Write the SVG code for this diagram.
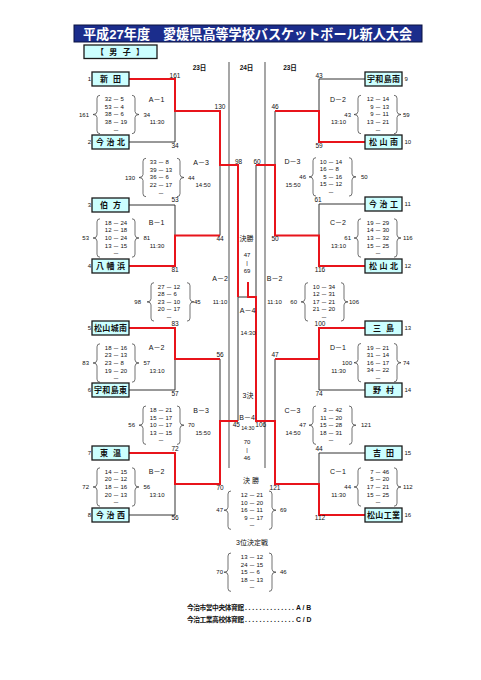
<svg xmlns="http://www.w3.org/2000/svg" width="481" height="680" viewBox="0 0 481 680">
<style>
text{font-family:"Liberation Sans","Noto Sans CJK JP",sans-serif;fill:#111}
.nm{font-size:8px;font-weight:bold;text-anchor:middle}
.s{font-size:6px}
.e{text-anchor:end}
.m{text-anchor:middle}
.lb{font-size:7px}
.n{font-size:6.5px}
.d{font-size:6.5px;font-weight:bold;text-anchor:middle}
.box{fill:#ccffff;stroke:#1a1a1a;stroke-width:1.3}
.red{fill:none;stroke:#e8141b;stroke-width:2}
.gry{fill:none;stroke:#333;stroke-width:1}
.br{fill:none;stroke:#333;stroke-width:0.7}
.vl{stroke:#777;stroke-width:1.3}
</style>
<defs>
<path id="bl" class="br" d="M3,-4 Q0,-4 0,-1 V12.2 Q0,15.2 -4,15.2 Q0,15.2 0,18.2 V31.4 Q0,34.4 3,34.4"/>
<path id="bR" class="br" d="M-3,-4 Q0,-4 0,-1 V12.2 Q0,15.2 4,15.2 Q0,15.2 0,18.2 V31.4 Q0,34.4 -3,34.4"/>
</defs>
<rect width="481" height="680" fill="#fff"/>
<g id="title">
<rect x="74" y="25" width="348" height="17" fill="#1b2d8c" stroke="#0a1240"/>
<text x="83" y="39" font-size="13.5" font-weight="bold" style="fill:#fff" textLength="329" lengthAdjust="spacingAndGlyphs">平成27年度　愛媛県高等学校バスケットボール新人大会</text>
</g>
<g id="gender">
<rect class="box" x="84" y="45" width="73" height="13.5"/>
<text class="nm" x="120" y="54.6" textLength="48" lengthAdjust="spacing">【 男 子 】</text>
</g>
<g id="days">
<text class="d" x="199.5" y="70">23日</text>
<text class="d" x="246.5" y="70">24日</text>
<text class="d" x="290" y="70">23日</text>
<line class="vl" x1="229" y1="62" x2="229" y2="468"/>
<line class="vl" x1="265" y1="62" x2="265" y2="468"/>
</g>
<g id="connectors">
<path class="gry" d="M129,142 H175 V111"/>
<path class="gry" d="M129,205 H175 V235.5"/>
<path class="gry" d="M220,165 V235.5"/>
<path class="gry" d="M129,390 H175 V359"/>
<path class="gry" d="M129,515 H175 V484"/>
<path class="gry" d="M220,359 V421"/>
<path class="gry" d="M238,297 V421"/>
<path class="gry" d="M238,297 H248"/>
<path class="gry" d="M365,79 H319 V111"/>
<path class="gry" d="M275,111 V165"/>
<path class="gry" d="M365,204 H319 V235.5"/>
<path class="gry" d="M256,165 V297"/>
<path class="gry" d="M365,390 H319 V359"/>
<path class="gry" d="M275,359 V421"/>
<path class="gry" d="M365,453 H319 V484"/>
<path class="red" d="M129,79 H175 V111 H220 V165 H238 V297"/>
<path class="red" d="M129,266 H175 V235.5 H220"/>
<path class="red" d="M129,328 H175 V359 H220"/>
<path class="red" d="M129,453 H175 V484 H220 V421 H238"/>
<path class="red" d="M365,142 H319 V111 H275"/>
<path class="red" d="M365,266 H319 V235.5 H275 V165 H256"/>
<path class="red" d="M365,328 H319 V359 H275"/>
<path class="red" d="M365,515 H319 V484 H275 V421 H256 V297 H248 V282"/>
</g>
<g id="n1"><rect class="box" x="92" y="72" width="37" height="14"/><text class="nm" x="110.5" y="81.9" textLength="21" lengthAdjust="spacing">新田</text><text class="s e" x="91" y="81.2">1</text></g>
<g id="n2"><rect class="box" x="92" y="135" width="37" height="14"/><text class="nm" x="110.5" y="144.9" textLength="29" lengthAdjust="spacing">今治北</text><text class="s e" x="91" y="144.2">2</text></g>
<g id="n3"><rect class="box" x="92" y="198" width="37" height="14"/><text class="nm" x="110.5" y="207.9" textLength="21" lengthAdjust="spacing">伯方</text><text class="s e" x="91" y="207.2">3</text></g>
<g id="n4"><rect class="box" x="92" y="259" width="37" height="14"/><text class="nm" x="110.5" y="268.9" textLength="29" lengthAdjust="spacing">八幡浜</text><text class="s e" x="91" y="268.2">4</text></g>
<g id="n5"><rect class="box" x="92" y="321" width="37" height="14"/><text class="nm" x="110.5" y="330.9" textLength="33" lengthAdjust="spacing">松山城南</text><text class="s e" x="91" y="330.2">5</text></g>
<g id="n6"><rect class="box" x="92" y="383" width="37" height="14"/><text class="nm" x="110.5" y="392.9" textLength="33" lengthAdjust="spacing">宇和島東</text><text class="s e" x="91" y="392.2">6</text></g>
<g id="n7"><rect class="box" x="92" y="446" width="37" height="14"/><text class="nm" x="110.5" y="455.9" textLength="21" lengthAdjust="spacing">東温</text><text class="s e" x="91" y="455.2">7</text></g>
<g id="n8"><rect class="box" x="92" y="508" width="37" height="14"/><text class="nm" x="110.5" y="517.9" textLength="29" lengthAdjust="spacing">今治西</text><text class="s e" x="91" y="517.2">8</text></g>
<g id="n9"><rect class="box" x="365" y="72" width="37" height="14"/><text class="nm" x="383.5" y="81.9" textLength="33" lengthAdjust="spacing">宇和島南</text><text class="s" x="404.5" y="81.2">9</text></g>
<g id="n10"><rect class="box" x="365" y="135" width="37" height="14"/><text class="nm" x="383.5" y="144.9" textLength="29" lengthAdjust="spacing">松山南</text><text class="s" x="404.5" y="144.2">10</text></g>
<g id="n11"><rect class="box" x="365" y="197" width="37" height="14"/><text class="nm" x="383.5" y="206.9" textLength="29" lengthAdjust="spacing">今治工</text><text class="s" x="404.5" y="206.2">11</text></g>
<g id="n12"><rect class="box" x="365" y="259" width="37" height="14"/><text class="nm" x="383.5" y="268.9" textLength="29" lengthAdjust="spacing">松山北</text><text class="s" x="404.5" y="268.2">12</text></g>
<g id="n13"><rect class="box" x="365" y="321" width="37" height="14"/><text class="nm" x="383.5" y="330.9" textLength="21" lengthAdjust="spacing">三島</text><text class="s" x="404.5" y="330.2">13</text></g>
<g id="n14"><rect class="box" x="365" y="383" width="37" height="14"/><text class="nm" x="383.5" y="392.9" textLength="21" lengthAdjust="spacing">野村</text><text class="s" x="404.5" y="392.2">14</text></g>
<g id="n15"><rect class="box" x="365" y="446" width="37" height="14"/><text class="nm" x="383.5" y="455.9" textLength="21" lengthAdjust="spacing">吉田</text><text class="s" x="404.5" y="455.2">15</text></g>
<g id="n16"><rect class="box" x="365" y="508" width="37" height="14"/><text class="nm" x="383.5" y="517.9" textLength="33" lengthAdjust="spacing">松山工業</text><text class="s" x="404.5" y="517.2">16</text></g>
<g id="line-labels">
<text class="n m" x="175" y="78.3">161</text>
<text class="n m" x="175" y="148.3">34</text>
<text class="n m" x="220" y="109.3">130</text>
<text class="n m" x="175" y="202.3">53</text>
<text class="n m" x="175" y="271.8">81</text>
<text class="n m" x="220" y="241.3">44</text>
<text class="n m" x="238.5" y="163.8">98</text>
<text class="n m" x="175" y="326.3">83</text>
<text class="n m" x="175" y="395.8">57</text>
<text class="n m" x="220" y="357.3">56</text>
<text class="n m" x="175" y="451.3">72</text>
<text class="n m" x="175" y="520.3">56</text>
<text class="n m" x="220" y="490.3">70</text>
<text class="n m" x="236.3" y="427.3">45</text>
<text class="n m" x="319" y="78.3">43</text>
<text class="n m" x="319" y="148.3">59</text>
<text class="n m" x="275" y="109.3">46</text>
<text class="n m" x="257" y="163.8">60</text>
<text class="n m" x="318" y="202.3">61</text>
<text class="n m" x="320" y="271.8">116</text>
<text class="n m" x="275" y="241.3">50</text>
<text class="n m" x="320" y="326.3">100</text>
<text class="n m" x="319" y="395.8">74</text>
<text class="n m" x="275" y="357.3">47</text>
<text class="n m" x="319" y="451.3">44</text>
<text class="n m" x="320" y="520.3">112</text>
<text class="n m" x="275" y="490.3">121</text>
<text class="n m" x="260.8" y="427.3">106</text>
</g>
<g id="sA1" transform="translate(0,99.3)">
<use href="#bl" x="97"/><use href="#bR" x="135"/>
<text class="s e" x="89" y="17.4">161</text><text class="s" x="143.5" y="17.4">34</text>
<text class="lb m" x="156.5" y="2.5">A－1</text><text class="s m" x="157" y="25">11:30</text>
<text class="s e" x="111.5" y="2">32</text><text class="s m" x="116" y="2">－</text><text class="s" x="120.5" y="2">5</text>
<text class="s e" x="111.5" y="9.6">53</text><text class="s m" x="116" y="9.6">－</text><text class="s" x="120.5" y="9.6">4</text>
<text class="s e" x="111.5" y="17.2">38</text><text class="s m" x="116" y="17.2">－</text><text class="s" x="120.5" y="17.2">6</text>
<text class="s e" x="111.5" y="24.8">38</text><text class="s m" x="116" y="24.8">－</text><text class="s" x="120.5" y="24.8">19</text>
<text class="s m" x="116" y="32.4">－</text>
</g>
<g id="sB1" transform="translate(0,222.8)">
<use href="#bl" x="97"/><use href="#bR" x="135"/>
<text class="s e" x="89" y="17.4">53</text><text class="s" x="143.5" y="17.4">81</text>
<text class="lb m" x="156.5" y="2.5">B－1</text><text class="s m" x="157" y="25">11:30</text>
<text class="s e" x="111.5" y="2">18</text><text class="s m" x="116" y="2">－</text><text class="s" x="120.5" y="2">24</text>
<text class="s e" x="111.5" y="9.6">12</text><text class="s m" x="116" y="9.6">－</text><text class="s" x="120.5" y="9.6">18</text>
<text class="s e" x="111.5" y="17.2">10</text><text class="s m" x="116" y="17.2">－</text><text class="s" x="120.5" y="17.2">24</text>
<text class="s e" x="111.5" y="24.8">13</text><text class="s m" x="116" y="24.8">－</text><text class="s" x="120.5" y="24.8">15</text>
<text class="s m" x="116" y="32.4">－</text>
</g>
<g id="sA2" transform="translate(0,347.8)">
<use href="#bl" x="97"/><use href="#bR" x="135"/>
<text class="s e" x="89" y="17.4">83</text><text class="s" x="143.5" y="17.4">57</text>
<text class="lb m" x="156.5" y="2.5">A－2</text><text class="s m" x="157" y="25">13:10</text>
<text class="s e" x="111.5" y="2">18</text><text class="s m" x="116" y="2">－</text><text class="s" x="120.5" y="2">16</text>
<text class="s e" x="111.5" y="9.6">23</text><text class="s m" x="116" y="9.6">－</text><text class="s" x="120.5" y="9.6">13</text>
<text class="s e" x="111.5" y="17.2">23</text><text class="s m" x="116" y="17.2">－</text><text class="s" x="120.5" y="17.2">8</text>
<text class="s e" x="111.5" y="24.8">19</text><text class="s m" x="116" y="24.8">－</text><text class="s" x="120.5" y="24.8">20</text>
<text class="s m" x="116" y="32.4">－</text>
</g>
<g id="sB2" transform="translate(0,471.8)">
<use href="#bl" x="97"/><use href="#bR" x="135"/>
<text class="s e" x="89" y="17.4">72</text><text class="s" x="143.5" y="17.4">56</text>
<text class="lb m" x="156.5" y="2.5">B－2</text><text class="s m" x="157" y="25">13:10</text>
<text class="s e" x="111.5" y="2">14</text><text class="s m" x="116" y="2">－</text><text class="s" x="120.5" y="2">15</text>
<text class="s e" x="111.5" y="9.6">20</text><text class="s m" x="116" y="9.6">－</text><text class="s" x="120.5" y="9.6">12</text>
<text class="s e" x="111.5" y="17.2">18</text><text class="s m" x="116" y="17.2">－</text><text class="s" x="120.5" y="17.2">16</text>
<text class="s e" x="111.5" y="24.8">20</text><text class="s m" x="116" y="24.8">－</text><text class="s" x="120.5" y="24.8">13</text>
<text class="s m" x="116" y="32.4">－</text>
</g>
<g id="sA3" transform="translate(0,162.3)">
<use href="#bl" x="143"/><use href="#bR" x="180"/>
<text class="s e" x="135" y="17.4">130</text><text class="s" x="188" y="17.4">44</text>
<text class="lb m" x="201" y="2.5">A－3</text><text class="s m" x="203" y="25">14:50</text>
<text class="s e" x="156.5" y="2">33</text><text class="s m" x="161" y="2">－</text><text class="s" x="165.5" y="2">8</text>
<text class="s e" x="156.5" y="9.6">39</text><text class="s m" x="161" y="9.6">－</text><text class="s" x="165.5" y="9.6">13</text>
<text class="s e" x="156.5" y="17.2">36</text><text class="s m" x="161" y="17.2">－</text><text class="s" x="165.5" y="17.2">6</text>
<text class="s e" x="156.5" y="24.8">22</text><text class="s m" x="161" y="24.8">－</text><text class="s" x="165.5" y="24.8">17</text>
<text class="s m" x="161" y="32.4">－</text>
</g>
<g id="sB3" transform="translate(0,410)">
<use href="#bl" x="143"/><use href="#bR" x="180"/>
<text class="s e" x="135" y="17.4">56</text><text class="s" x="188" y="17.4">70</text>
<text class="lb m" x="201" y="2.5">B－3</text><text class="s m" x="203" y="25">15:50</text>
<text class="s e" x="156.5" y="2">18</text><text class="s m" x="161" y="2">－</text><text class="s" x="165.5" y="2">21</text>
<text class="s e" x="156.5" y="9.6">15</text><text class="s m" x="161" y="9.6">－</text><text class="s" x="165.5" y="9.6">17</text>
<text class="s e" x="156.5" y="17.2">10</text><text class="s m" x="161" y="17.2">－</text><text class="s" x="165.5" y="17.2">17</text>
<text class="s e" x="156.5" y="24.8">13</text><text class="s m" x="161" y="24.8">－</text><text class="s" x="165.5" y="24.8">15</text>
<text class="s m" x="161" y="32.4">－</text>
</g>
<g id="sD2" transform="translate(0,99.3)">
<use href="#bl" x="358"/><use href="#bR" x="397"/>
<text class="s e" x="351" y="17.4">43</text><text class="s" x="403" y="17.4">59</text>
<text class="lb m" x="338" y="2.5">D－2</text><text class="s m" x="338.5" y="25">13:10</text>
<text class="s e" x="373.5" y="2">12</text><text class="s m" x="378" y="2">－</text><text class="s" x="382.5" y="2">14</text>
<text class="s e" x="373.5" y="9.6">9</text><text class="s m" x="378" y="9.6">－</text><text class="s" x="382.5" y="9.6">13</text>
<text class="s e" x="373.5" y="17.2">9</text><text class="s m" x="378" y="17.2">－</text><text class="s" x="382.5" y="17.2">11</text>
<text class="s e" x="373.5" y="24.8">13</text><text class="s m" x="378" y="24.8">－</text><text class="s" x="382.5" y="24.8">21</text>
<text class="s m" x="378" y="32.4">－</text>
</g>
<g id="sC2" transform="translate(0,222.8)">
<use href="#bl" x="358"/><use href="#bR" x="397"/>
<text class="s e" x="351" y="17.4">61</text><text class="s" x="403" y="17.4">116</text>
<text class="lb m" x="338" y="2.5">C－2</text><text class="s m" x="338.5" y="25">13:10</text>
<text class="s e" x="373.5" y="2">19</text><text class="s m" x="378" y="2">－</text><text class="s" x="382.5" y="2">29</text>
<text class="s e" x="373.5" y="9.6">14</text><text class="s m" x="378" y="9.6">－</text><text class="s" x="382.5" y="9.6">30</text>
<text class="s e" x="373.5" y="17.2">13</text><text class="s m" x="378" y="17.2">－</text><text class="s" x="382.5" y="17.2">32</text>
<text class="s e" x="373.5" y="24.8">15</text><text class="s m" x="378" y="24.8">－</text><text class="s" x="382.5" y="24.8">25</text>
<text class="s m" x="378" y="32.4">－</text>
</g>
<g id="sD1" transform="translate(0,347.5)">
<use href="#bl" x="358"/><use href="#bR" x="397"/>
<text class="s e" x="352" y="17.4">100</text><text class="s" x="403" y="17.4">74</text>
<text class="lb m" x="338" y="2.5">D－1</text><text class="s m" x="338.5" y="25">11:30</text>
<text class="s e" x="373.5" y="2">19</text><text class="s m" x="378" y="2">－</text><text class="s" x="382.5" y="2">21</text>
<text class="s e" x="373.5" y="9.6">31</text><text class="s m" x="378" y="9.6">－</text><text class="s" x="382.5" y="9.6">14</text>
<text class="s e" x="373.5" y="17.2">16</text><text class="s m" x="378" y="17.2">－</text><text class="s" x="382.5" y="17.2">17</text>
<text class="s e" x="373.5" y="24.8">34</text><text class="s m" x="378" y="24.8">－</text><text class="s" x="382.5" y="24.8">22</text>
<text class="s m" x="378" y="32.4">－</text>
</g>
<g id="sC1" transform="translate(0,471.8)">
<use href="#bl" x="358"/><use href="#bR" x="397"/>
<text class="s e" x="351" y="17.4">44</text><text class="s" x="403" y="17.4">112</text>
<text class="lb m" x="338" y="2.5">C－1</text><text class="s m" x="338.5" y="25">11:30</text>
<text class="s e" x="373.5" y="2">7</text><text class="s m" x="378" y="2">－</text><text class="s" x="382.5" y="2">46</text>
<text class="s e" x="373.5" y="9.6">5</text><text class="s m" x="378" y="9.6">－</text><text class="s" x="382.5" y="9.6">20</text>
<text class="s e" x="373.5" y="17.2">17</text><text class="s m" x="378" y="17.2">－</text><text class="s" x="382.5" y="17.2">21</text>
<text class="s e" x="373.5" y="24.8">15</text><text class="s m" x="378" y="24.8">－</text><text class="s" x="382.5" y="24.8">25</text>
<text class="s m" x="378" y="32.4">－</text>
</g>
<g id="sD3" transform="translate(0,161.7)">
<use href="#bl" x="313"/><use href="#bR" x="352"/>
<text class="s e" x="306" y="17.4">46</text><text class="s" x="361" y="17.4">50</text>
<text class="lb m" x="292.5" y="2.5">D－3</text><text class="s m" x="293" y="25">15:50</text>
<text class="s e" x="326.5" y="2">10</text><text class="s m" x="331" y="2">－</text><text class="s" x="335.5" y="2">14</text>
<text class="s e" x="326.5" y="9.6">16</text><text class="s m" x="331" y="9.6">－</text><text class="s" x="335.5" y="9.6">8</text>
<text class="s e" x="326.5" y="17.2">5</text><text class="s m" x="331" y="17.2">－</text><text class="s" x="335.5" y="17.2">16</text>
<text class="s e" x="326.5" y="24.8">15</text><text class="s m" x="331" y="24.8">－</text><text class="s" x="335.5" y="24.8">12</text>
<text class="s m" x="331" y="32.4">－</text>
</g>
<g id="sC3" transform="translate(0,410)">
<use href="#bl" x="313"/><use href="#bR" x="352"/>
<text class="s e" x="306" y="17.4">47</text><text class="s" x="361" y="17.4">121</text>
<text class="lb m" x="292.5" y="2.5">C－3</text><text class="s m" x="293" y="25">14:50</text>
<text class="s e" x="326.5" y="2">3</text><text class="s m" x="331" y="2">－</text><text class="s" x="335.5" y="2">42</text>
<text class="s e" x="326.5" y="9.6">11</text><text class="s m" x="331" y="9.6">－</text><text class="s" x="335.5" y="9.6">20</text>
<text class="s e" x="326.5" y="17.2">15</text><text class="s m" x="331" y="17.2">－</text><text class="s" x="335.5" y="17.2">28</text>
<text class="s e" x="326.5" y="24.8">18</text><text class="s m" x="331" y="24.8">－</text><text class="s" x="335.5" y="24.8">31</text>
<text class="s m" x="331" y="32.4">－</text>
</g>
<g id="sA2semi" transform="translate(0,286.7)">
<use href="#bl" x="151"/><use href="#bR" x="190"/>
<text class="s e" x="141" y="17.4">98</text><text class="s" x="194" y="17.4">45</text>
<text class="lb m" x="220" y="-6.2">A－2</text><text class="s m" x="220" y="17.2">11:10</text>
<text class="s e" x="164.5" y="2">27</text><text class="s m" x="169" y="2">－</text><text class="s" x="173.5" y="2">12</text>
<text class="s e" x="164.5" y="9.6">28</text><text class="s m" x="169" y="9.6">－</text><text class="s" x="173.5" y="9.6">6</text>
<text class="s e" x="164.5" y="17.2">23</text><text class="s m" x="169" y="17.2">－</text><text class="s" x="173.5" y="17.2">10</text>
<text class="s e" x="164.5" y="24.8">20</text><text class="s m" x="169" y="24.8">－</text><text class="s" x="173.5" y="24.8">17</text>
<text class="s m" x="169" y="32.4">－</text>
</g>
<g id="sB2semi" transform="translate(0,286.7)">
<use href="#bl" x="305"/><use href="#bR" x="344"/>
<text class="s e" x="297" y="17.4">60</text><text class="s" x="349" y="17.4">106</text>
<text class="lb m" x="274.5" y="-6.2">B－2</text><text class="s m" x="274.5" y="17.2">11:10</text>
<text class="s e" x="319.5" y="2">10</text><text class="s m" x="324" y="2">－</text><text class="s" x="328.5" y="2">34</text>
<text class="s e" x="319.5" y="9.6">12</text><text class="s m" x="324" y="9.6">－</text><text class="s" x="328.5" y="9.6">31</text>
<text class="s e" x="319.5" y="17.2">17</text><text class="s m" x="324" y="17.2">－</text><text class="s" x="328.5" y="17.2">21</text>
<text class="s e" x="319.5" y="24.8">21</text><text class="s m" x="324" y="24.8">－</text><text class="s" x="328.5" y="24.8">20</text>
<text class="s m" x="324" y="32.4">－</text>
</g>
<g id="center-labels">
<text class="lb m" x="246.5" y="240.5">決勝</text>
<text class="s m" x="247" y="256.5">47</text>
<text class="s m" x="247" y="264.5">|</text>
<text class="s m" x="247" y="272.5">69</text>
<text class="lb m" x="247.5" y="312.5">A－4</text>
<text class="s m" x="248" y="334.5">14:30</text>
<text class="lb m" x="248" y="397.5">3決</text>
<text class="lb m" x="247" y="419.5">B－4</text>
<text class="m" font-size="5.3" x="247.8" y="429.5">14:30</text>
<text class="s m" x="247" y="444">70</text>
<text class="s m" x="247" y="452">|</text>
<text class="s m" x="247" y="459.5">46</text>
<text class="lb m" x="251" y="482.5">決 勝</text>
<text class="lb m" x="252" y="544.5">3位決定戦</text>
</g>
<g id="sFinal" transform="translate(0,495)">
<use href="#bl" x="228"/><use href="#bR" x="272"/>
<text class="s e" x="223" y="17.4">47</text><text class="s" x="280" y="17.4">69</text>
<text class="s e" x="247.5" y="2">12</text><text class="s m" x="252" y="2">－</text><text class="s" x="256.5" y="2">21</text>
<text class="s e" x="247.5" y="9.6">10</text><text class="s m" x="252" y="9.6">－</text><text class="s" x="256.5" y="9.6">20</text>
<text class="s e" x="247.5" y="17.2">16</text><text class="s m" x="252" y="17.2">－</text><text class="s" x="256.5" y="17.2">11</text>
<text class="s e" x="247.5" y="24.8">9</text><text class="s m" x="252" y="24.8">－</text><text class="s" x="256.5" y="24.8">17</text>
<text class="s m" x="252" y="32.4">－</text>
</g>
<g id="sThird" transform="translate(0,557)">
<use href="#bl" x="228"/><use href="#bR" x="272"/>
<text class="s e" x="223" y="17.4">70</text><text class="s" x="280" y="17.4">46</text>
<text class="s e" x="247.5" y="2">13</text><text class="s m" x="252" y="2">－</text><text class="s" x="256.5" y="2">12</text>
<text class="s e" x="247.5" y="9.6">24</text><text class="s m" x="252" y="9.6">－</text><text class="s" x="256.5" y="9.6">15</text>
<text class="s e" x="247.5" y="17.2">15</text><text class="s m" x="252" y="17.2">－</text><text class="s" x="256.5" y="17.2">6</text>
<text class="s e" x="247.5" y="24.8">18</text><text class="s m" x="252" y="24.8">－</text><text class="s" x="256.5" y="24.8">13</text>
<text class="s m" x="252" y="32.4">－</text>
</g>
<g id="legend" font-size="6.8" font-weight="bold">
<text x="187" y="609.5" textLength="57" lengthAdjust="spacing">今治市営中央体育館</text>
<text x="245" y="609.5" textLength="49" lengthAdjust="spacing">..............</text>
<text x="296" y="609.5">A / B</text>
<text x="187" y="621.5" textLength="57" lengthAdjust="spacing">今治工業高校体育館</text>
<text x="245" y="621.5" textLength="49" lengthAdjust="spacing">..............</text>
<text x="296" y="621.5">C / D</text>
</g>
</svg>
